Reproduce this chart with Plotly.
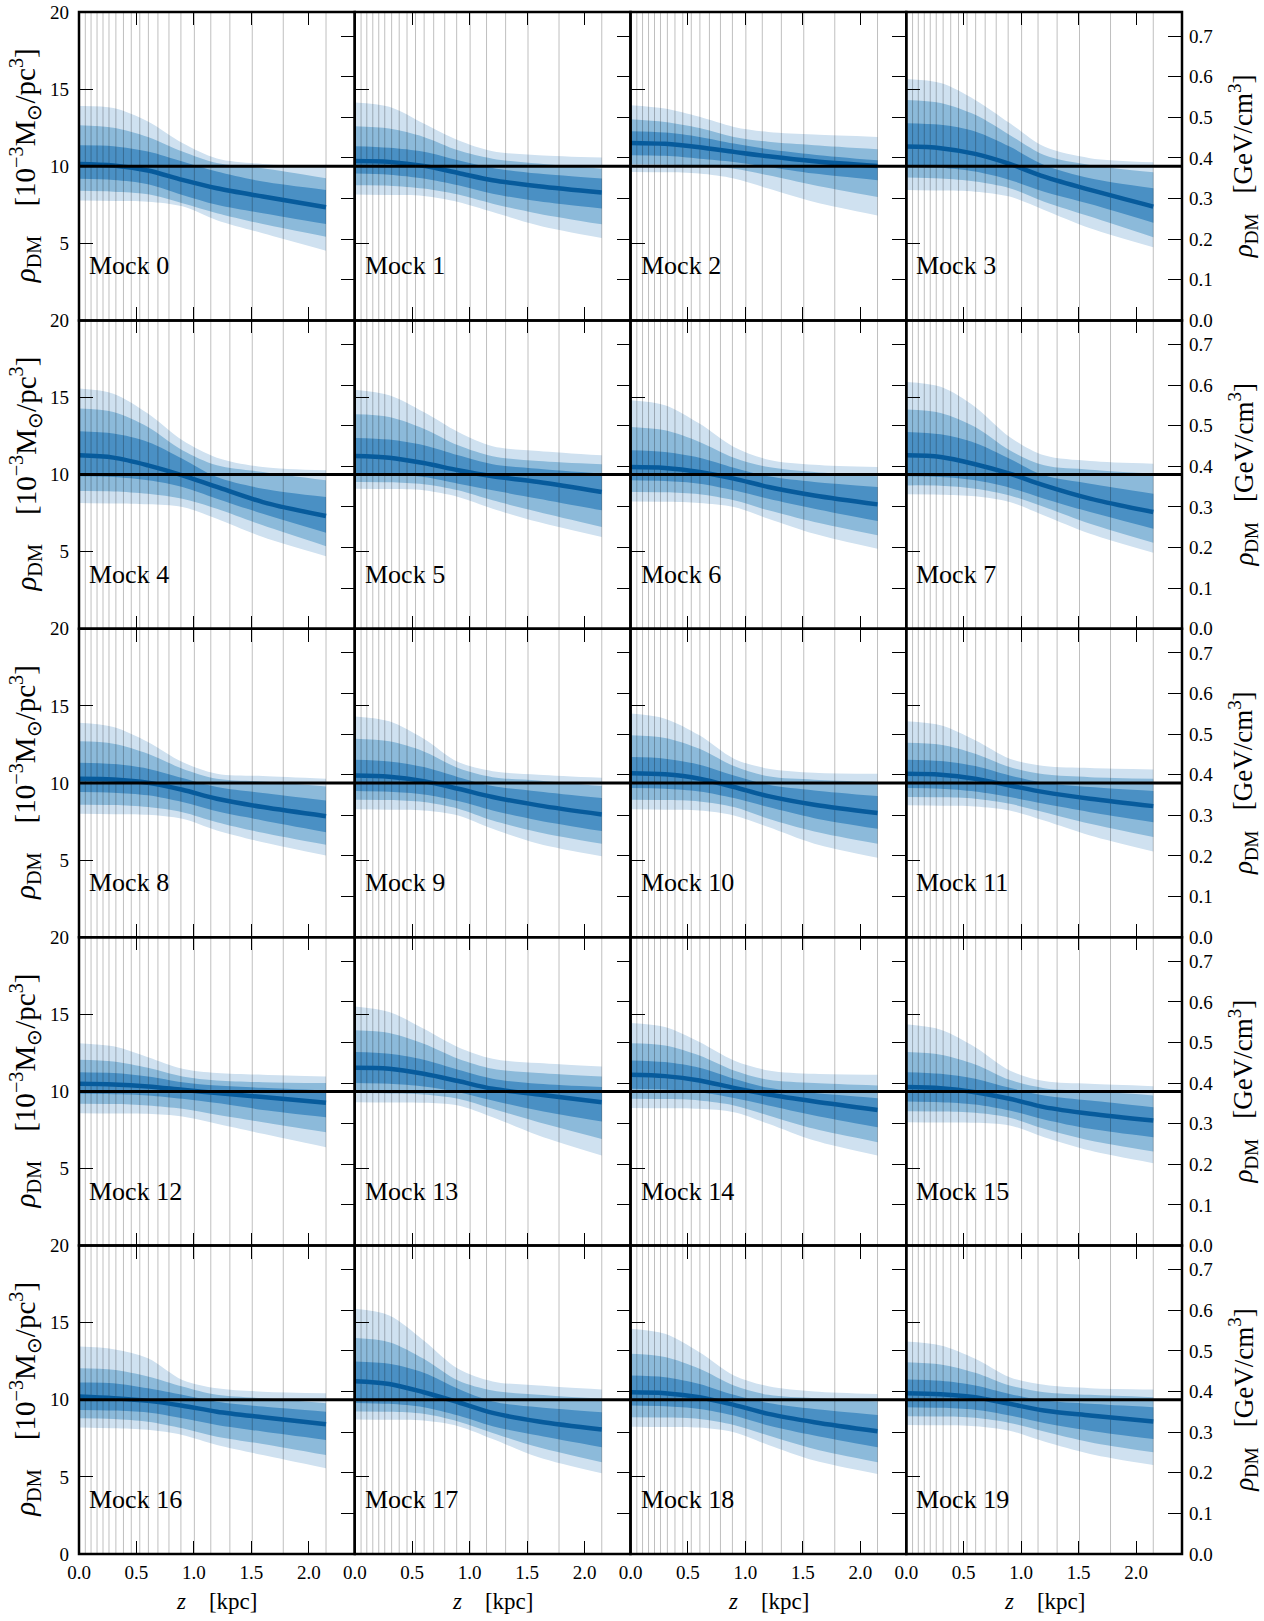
import plotly.graph_objects as go

# ---------------- data ----------------
Z_NODES = [0.0, 0.3, 0.6, 0.9, 1.2, 1.6, 2.15]
Z_BINS = [0.055, 0.105, 0.157, 0.209, 0.261, 0.321, 0.387, 0.455, 0.529, 0.604,
          0.687, 0.783, 0.887, 1.004, 1.147, 1.313, 1.508, 1.778, 2.15]
MOCK_LABELS = ["Mock 0", "Mock 1", "Mock 2", "Mock 3", "Mock 4", "Mock 5", "Mock 6",
               "Mock 7", "Mock 8", "Mock 9", "Mock 10", "Mock 11", "Mock 12", "Mock 13",
               "Mock 14", "Mock 15", "Mock 16", "Mock 17", "Mock 18", "Mock 19"]
TRUE_RHO = 10.0
GEV_PER_UNIT = 0.03797
X_TICKS = [0.0, 0.5, 1.0, 1.5, 2.0]
Y_TICKS = [0, 5, 10, 15, 20]
GEV_TICKS = [0.0, 0.1, 0.2, 0.3, 0.4, 0.5, 0.6, 0.7]

HI3 = [
    [13.90, 13.77, 12.90, 11.50, 10.50, 10.15, 10.00],
    [14.13, 13.85, 12.77, 11.68, 10.97, 10.71, 10.56],
    [13.96, 13.74, 13.20, 12.55, 12.22, 12.05, 11.90],
    [15.65, 15.39, 14.30, 12.80, 11.27, 10.52, 10.26],
    [15.58, 15.25, 13.96, 12.22, 11.10, 10.49, 10.28],
    [15.51, 15.15, 14.06, 12.77, 11.84, 11.53, 11.25],
    [14.82, 14.50, 13.31, 11.79, 10.97, 10.64, 10.49],
    [16.01, 15.69, 14.39, 12.44, 11.25, 10.88, 10.71],
    [13.91, 13.63, 12.66, 11.36, 10.60, 10.45, 10.28],
    [14.32, 14.00, 12.87, 11.36, 10.77, 10.54, 10.34],
    [14.50, 14.17, 13.09, 11.58, 10.93, 10.67, 10.60],
    [14.00, 13.74, 12.77, 11.58, 11.10, 10.97, 10.88],
    [13.13, 12.92, 12.22, 11.47, 11.19, 11.08, 10.97],
    [15.51, 15.15, 14.06, 12.87, 12.12, 11.84, 11.62],
    [14.43, 14.17, 13.20, 12.01, 11.36, 11.14, 11.08],
    [14.35, 14.00, 12.87, 11.36, 10.67, 10.49, 10.34],
    [13.45, 13.28, 12.70, 11.29, 10.75, 10.53, 10.43],
    [15.90, 15.47, 13.85, 12.01, 11.19, 10.93, 10.67],
    [14.61, 14.28, 13.09, 11.58, 10.88, 10.54, 10.38],
    [13.78, 13.52, 12.66, 11.47, 10.97, 10.75, 10.67],
]
HI2 = [
    [12.66, 12.50, 11.90, 10.95, 10.20, 9.87, 9.22],
    [12.59, 12.44, 11.90, 11.03, 10.49, 10.17, 9.84],
    [13.05, 12.87, 12.48, 11.90, 11.58, 11.36, 11.10],
    [14.30, 14.10, 13.33, 12.03, 10.73, 10.08, 9.61],
    [14.28, 14.06, 13.09, 11.58, 10.60, 10.17, 9.63],
    [13.91, 13.74, 12.98, 11.90, 11.19, 10.88, 10.67],
    [13.09, 12.87, 12.12, 11.10, 10.49, 10.17, 9.89],
    [14.22, 14.00, 13.09, 11.58, 10.60, 10.32, 10.06],
    [12.70, 12.55, 11.90, 10.93, 10.28, 10.10, 9.78],
    [12.87, 12.70, 12.05, 10.97, 10.38, 10.17, 9.80],
    [13.09, 12.92, 12.22, 11.10, 10.43, 10.21, 10.06],
    [12.61, 12.48, 11.90, 11.03, 10.56, 10.38, 10.28],
    [12.05, 11.94, 11.53, 10.97, 10.71, 10.60, 10.54],
    [13.96, 13.78, 13.09, 12.12, 11.47, 11.19, 10.97],
    [13.13, 12.98, 12.33, 11.36, 10.75, 10.54, 10.38],
    [12.55, 12.38, 11.75, 10.75, 10.21, 10.02, 9.74],
    [12.05, 11.95, 11.51, 10.86, 10.32, 10.10, 9.78],
    [14.00, 13.74, 12.66, 11.25, 10.60, 10.32, 10.06],
    [12.98, 12.77, 12.01, 10.93, 10.32, 10.10, 9.89],
    [12.44, 12.29, 11.75, 10.93, 10.49, 10.32, 10.17],
]
HI1 = [
    [11.36, 11.30, 10.95, 10.30, 9.65, 9.00, 8.46],
    [11.29, 11.19, 10.93, 10.38, 9.89, 9.52, 9.20],
    [12.27, 12.18, 11.90, 11.47, 11.10, 10.75, 10.38],
    [12.79, 12.68, 12.25, 11.27, 10.08, 9.22, 8.57],
    [12.81, 12.66, 12.12, 11.03, 9.84, 9.09, 8.55],
    [12.38, 12.27, 11.90, 11.25, 10.67, 10.38, 10.06],
    [11.58, 11.47, 11.10, 10.45, 9.89, 9.52, 9.20],
    [12.77, 12.61, 12.05, 11.03, 9.95, 9.41, 8.76],
    [11.32, 11.23, 10.93, 10.32, 9.74, 9.35, 8.87],
    [11.51, 11.40, 11.03, 10.38, 9.80, 9.45, 9.02],
    [11.68, 11.58, 11.19, 10.49, 9.89, 9.52, 9.15],
    [11.51, 11.42, 11.10, 10.49, 10.02, 9.74, 9.48],
    [11.25, 11.19, 10.97, 10.60, 10.38, 10.23, 10.06],
    [12.55, 12.44, 12.05, 11.40, 10.82, 10.49, 10.28],
    [12.01, 11.90, 11.53, 10.82, 10.23, 9.89, 9.56],
    [11.25, 11.14, 10.82, 10.23, 9.74, 9.41, 8.98],
    [11.12, 11.08, 10.75, 10.32, 9.88, 9.56, 9.23],
    [12.48, 12.33, 11.75, 10.71, 9.89, 9.52, 9.20],
    [11.58, 11.47, 11.03, 10.32, 9.80, 9.41, 9.02],
    [11.32, 11.23, 10.93, 10.38, 9.95, 9.74, 9.52],
]
MEDIAN = [
    [10.15, 10.05, 9.72, 9.11, 8.57, 8.03, 7.34],
    [10.34, 10.28, 10.02, 9.56, 9.09, 8.70, 8.29],
    [11.51, 11.45, 11.23, 10.93, 10.64, 10.32, 10.02],
    [11.27, 11.17, 10.80, 10.15, 9.32, 8.46, 7.38],
    [11.25, 11.10, 10.60, 9.95, 9.20, 8.22, 7.31],
    [11.21, 11.10, 10.75, 10.28, 9.89, 9.52, 8.87],
    [10.49, 10.43, 10.17, 9.74, 9.20, 8.65, 8.07],
    [11.25, 11.14, 10.67, 10.06, 9.30, 8.44, 7.57],
    [10.28, 10.23, 10.02, 9.56, 8.98, 8.44, 7.85],
    [10.49, 10.41, 10.12, 9.63, 9.09, 8.55, 7.96],
    [10.64, 10.56, 10.28, 9.74, 9.15, 8.59, 8.05],
    [10.60, 10.54, 10.28, 9.84, 9.41, 8.98, 8.50],
    [10.49, 10.45, 10.32, 10.10, 9.89, 9.63, 9.26],
    [11.53, 11.47, 11.14, 10.67, 10.17, 9.80, 9.30],
    [11.08, 10.99, 10.71, 10.23, 9.80, 9.35, 8.80],
    [10.28, 10.21, 9.95, 9.52, 8.98, 8.55, 8.11],
    [10.21, 10.10, 9.93, 9.62, 9.23, 8.87, 8.42],
    [11.21, 11.03, 10.49, 9.84, 9.15, 8.59, 8.07],
    [10.49, 10.43, 10.17, 9.67, 9.09, 8.55, 7.96],
    [10.43, 10.36, 10.17, 9.74, 9.30, 8.98, 8.59],
]
LO1 = [
    [9.18, 9.10, 8.83, 8.14, 7.50, 6.95, 6.25],
    [9.52, 9.45, 9.20, 8.76, 8.22, 7.72, 7.25],
    [10.71, 10.67, 10.49, 10.28, 9.95, 9.52, 9.09],
    [9.97, 9.90, 9.65, 9.11, 8.35, 7.55, 6.34],
    [9.89, 9.84, 9.63, 9.20, 8.44, 7.46, 6.23],
    [10.06, 10.02, 9.84, 9.41, 8.98, 8.44, 7.68],
    [9.63, 9.58, 9.41, 8.98, 8.44, 7.79, 6.99],
    [9.89, 9.84, 9.63, 9.15, 8.44, 7.57, 6.49],
    [9.41, 9.37, 9.20, 8.76, 8.16, 7.57, 6.81],
    [9.48, 9.43, 9.26, 8.83, 8.22, 7.57, 6.88],
    [9.67, 9.63, 9.45, 9.02, 8.44, 7.72, 7.03],
    [9.67, 9.63, 9.45, 9.09, 8.65, 8.11, 7.46],
    [9.84, 9.82, 9.74, 9.52, 9.24, 8.80, 8.33],
    [10.54, 10.49, 10.32, 9.95, 9.41, 8.76, 8.05],
    [10.17, 10.12, 9.95, 9.58, 9.09, 8.44, 7.68],
    [9.35, 9.30, 9.15, 8.76, 8.18, 7.57, 7.03],
    [9.34, 9.30, 9.17, 8.80, 8.37, 7.94, 7.40],
    [9.80, 9.74, 9.52, 8.98, 8.29, 7.68, 6.92],
    [9.63, 9.58, 9.41, 8.98, 8.33, 7.68, 6.92],
    [9.52, 9.48, 9.35, 8.98, 8.50, 8.00, 7.46],
]
LO2 = [
    [8.40, 8.35, 8.18, 7.60, 6.95, 6.25, 5.43],
    [8.76, 8.74, 8.55, 8.16, 7.57, 6.92, 6.23],
    [10.12, 10.10, 10.02, 9.84, 9.41, 8.76, 8.00],
    [9.26, 9.20, 9.00, 8.57, 7.70, 6.73, 5.39],
    [8.93, 8.91, 8.76, 8.44, 7.79, 6.71, 5.36],
    [9.52, 9.50, 9.37, 8.98, 8.33, 7.57, 6.60],
    [8.87, 8.85, 8.72, 8.33, 7.68, 6.92, 6.06],
    [9.30, 9.28, 9.09, 8.65, 7.90, 6.81, 5.58],
    [8.59, 8.57, 8.44, 8.11, 7.46, 6.77, 5.99],
    [8.91, 8.89, 8.76, 8.33, 7.57, 6.81, 6.06],
    [8.91, 8.89, 8.80, 8.44, 7.68, 6.86, 6.06],
    [9.09, 9.07, 8.98, 8.65, 8.11, 7.35, 6.49],
    [9.20, 9.18, 9.09, 8.87, 8.48, 8.00, 7.35],
    [9.89, 9.87, 9.80, 9.52, 8.87, 8.00, 6.92],
    [9.52, 9.50, 9.41, 9.09, 8.44, 7.57, 6.71],
    [8.72, 8.70, 8.61, 8.29, 7.57, 6.81, 6.10],
    [8.80, 8.76, 8.58, 8.15, 7.61, 7.14, 6.42],
    [9.24, 9.22, 9.09, 8.59, 7.85, 6.92, 5.95],
    [8.87, 8.85, 8.76, 8.37, 7.68, 6.81, 5.95],
    [8.93, 8.91, 8.83, 8.50, 7.94, 7.25, 6.60],
]
LO3 = [
    [7.77, 7.75, 7.70, 7.40, 6.50, 5.65, 4.52],
    [8.16, 8.13, 8.07, 7.68, 7.03, 6.16, 5.34],
    [9.63, 9.60, 9.52, 9.20, 8.55, 7.68, 6.81],
    [8.46, 8.42, 8.35, 8.03, 7.16, 5.97, 4.74],
    [8.16, 8.13, 8.07, 7.90, 7.14, 5.95, 4.71],
    [9.09, 9.06, 8.98, 8.55, 7.79, 6.92, 5.95],
    [8.26, 8.24, 8.16, 7.90, 7.14, 6.16, 5.19],
    [8.72, 8.70, 8.59, 8.22, 7.35, 6.16, 4.93],
    [8.00, 7.98, 7.94, 7.68, 6.92, 6.16, 5.30],
    [8.29, 8.27, 8.22, 7.90, 7.03, 6.06, 5.25],
    [8.29, 8.27, 8.22, 7.90, 7.14, 6.06, 5.15],
    [8.55, 8.53, 8.48, 8.22, 7.57, 6.60, 5.56],
    [8.59, 8.57, 8.55, 8.37, 7.90, 7.25, 6.38],
    [9.30, 9.28, 9.26, 9.09, 8.33, 7.14, 5.84],
    [8.93, 8.91, 8.87, 8.65, 7.90, 6.81, 5.84],
    [8.00, 7.98, 7.96, 7.79, 7.03, 6.16, 5.34],
    [8.20, 8.15, 8.05, 7.72, 7.07, 6.42, 5.56],
    [8.72, 8.70, 8.65, 8.29, 7.46, 6.27, 5.23],
    [8.26, 8.24, 8.20, 7.90, 7.07, 6.06, 5.19],
    [8.37, 8.35, 8.29, 8.00, 7.29, 6.49, 5.77],
]

# ---------------- style ----------------
NROWS, NCOLS = 5, 4
X_RANGE = [0.0, 2.4]
Y_RANGE = [0.0, 20.0]
FONT = "Liberation Serif"
C_LIGHT = "#cfe1f0"
C_MID = "#8cbada"
C_DARK = "#4a90c4"
C_LINE = "#075b9c"
GRID_C = "rgba(0,0,0,0.25)"
TICKFONT = dict(family=FONT, size=19, color="black")

fig = go.Figure()
layout = dict(
    width=1264, height=1621,
    margin=dict(l=79, r=82, t=12, b=67, autoexpand=False),
    plot_bgcolor="white", paper_bgcolor="white",
    showlegend=False,
    font=dict(family=FONT, size=19, color="black"),
)
shapes = []
annotations = []

for i in range(NROWS * NCOLS):
    r, c = divmod(i, NCOLS)
    n = i + 1
    xa = "x" if n == 1 else f"x{n}"
    ya = "y" if n == 1 else f"y{n}"
    ya2 = f"y{n + 20}"
    xkey = "xaxis" if n == 1 else f"xaxis{n}"
    ykey = "yaxis" if n == 1 else f"yaxis{n}"
    y2key = f"yaxis{n + 20}"

    xdom = [c / NCOLS, (c + 1) / NCOLS]
    ydom = [1 - (r + 1) / NROWS, 1 - r / NROWS]

    # bands
    for lo, hi, col in ((LO3, HI3, C_LIGHT), (LO2, HI2, C_MID), (LO1, HI1, C_DARK)):
        fig.add_trace(go.Scatter(x=Z_NODES, y=lo[i], mode="lines",
                                 line=dict(width=0, shape="spline", smoothing=0.9),
                                 xaxis=xa, yaxis=ya, hoverinfo="skip"))
        fig.add_trace(go.Scatter(x=Z_NODES, y=hi[i], mode="lines",
                                 line=dict(width=0, shape="spline", smoothing=0.9),
                                 fill="tonexty", fillcolor=col,
                                 xaxis=xa, yaxis=ya, hoverinfo="skip"))
    # bin-edge grid lines
    gx, gy = [], []
    for zb in Z_BINS:
        gx += [zb, zb, None]
        gy += [Y_RANGE[0], Y_RANGE[1], None]
    fig.add_trace(go.Scatter(x=gx, y=gy, mode="lines",
                             line=dict(color=GRID_C, width=1),
                             xaxis=xa, yaxis=ya, hoverinfo="skip"))
    # median
    fig.add_trace(go.Scatter(x=Z_NODES, y=MEDIAN[i], mode="lines",
                             line=dict(color=C_LINE, width=4.5, shape="spline", smoothing=0.9),
                             xaxis=xa, yaxis=ya))
    # true value line (drawn on the GeV twin axis, so the twin axis is rendered)
    fig.add_trace(go.Scatter(x=X_RANGE, y=[TRUE_RHO * GEV_PER_UNIT] * 2, mode="lines",
                             line=dict(color="black", width=3),
                             xaxis=xa, yaxis=ya2, hoverinfo="skip"))

    # panel frame
    shapes.append(dict(type="rect", xref=f"{xa} domain", yref=f"{ya} domain",
                       x0=0, x1=1, y0=0, y1=1,
                       line=dict(color="black", width=2.5), fillcolor="rgba(0,0,0,0)"))

    layout[xkey] = dict(
        domain=xdom, anchor=ya, range=X_RANGE,
        tickvals=X_TICKS, ticktext=[f"{t:.1f}" for t in X_TICKS],
        ticks="inside", ticklen=13, tickwidth=1.3, tickcolor="black",
        showline=False, mirror="ticks",
        showgrid=False, zeroline=False,
        showticklabels=(r == NROWS - 1), ticklabelstandoff=5,
        tickfont=TICKFONT,
    )
    ytext = [str(t) for t in Y_TICKS]
    if r < NROWS - 1:
        ytext[0] = ""
    layout[ykey] = dict(
        domain=ydom, anchor=xa, range=Y_RANGE,
        tickvals=Y_TICKS, ticktext=ytext,
        ticks="inside", ticklen=14, tickwidth=1.3, tickcolor="black",
        showline=False, showgrid=False, zeroline=False,
        showticklabels=(c == 0), ticklabelstandoff=9,
        tickfont=TICKFONT,
    )
    layout[y2key] = dict(
        overlaying=ya, anchor=xa, side="right",
        range=[Y_RANGE[0] * GEV_PER_UNIT, Y_RANGE[1] * GEV_PER_UNIT],
        tickvals=GEV_TICKS, ticktext=[f"{t:.1f}" for t in GEV_TICKS],
        ticks="inside", ticklen=14, tickwidth=1.3, tickcolor="black",
        showline=False, showgrid=False, zeroline=False,
        showticklabels=(c == NCOLS - 1), ticklabelstandoff=6,
        tickfont=TICKFONT,
    )

    # mock label
    annotations.append(dict(text=MOCK_LABELS[i], xref=f"{xa} domain", yref=f"{ya} domain",
                            x=0, y=0, xanchor="left", yanchor="bottom",
                            xshift=8, yshift=38, showarrow=False,
                            font=dict(family=FONT, size=26, color="black")))

    if c == 0:
        annotations.append(dict(
            text="<i>ρ</i><sub>DM</sub>    [10<sup>−3</sup>M<sub>⊙</sub>/pc<sup>3</sup>]",
            xref="paper", yref="paper", x=0, y=(ydom[0] + ydom[1]) / 2,
            xanchor="center", yanchor="middle", xshift=-54, textangle=-90,
            showarrow=False, font=dict(family=FONT, size=29, color="black")))
    if c == NCOLS - 1:
        annotations.append(dict(
            text="<i>ρ</i><sub>DM</sub>   [GeV/cm<sup>3</sup>]",
            xref="paper", yref="paper", x=1, y=(ydom[0] + ydom[1]) / 2,
            xanchor="center", yanchor="middle", xshift=61, textangle=-90,
            showarrow=False, font=dict(family=FONT, size=27, color="black")))
    if r == NROWS - 1:
        annotations.append(dict(
            text="<i>z</i>    [kpc]",
            xref="paper", yref="paper", x=(xdom[0] + xdom[1]) / 2, y=0,
            xanchor="center", yanchor="middle", yshift=-47,
            showarrow=False, font=dict(family=FONT, size=23, color="black")))

layout["shapes"] = shapes
layout["annotations"] = annotations
fig.update_layout(**layout)
fig.write_html("out.html", config={"displayModeBar": False},
               post_script="document.body.style.margin='0';")
